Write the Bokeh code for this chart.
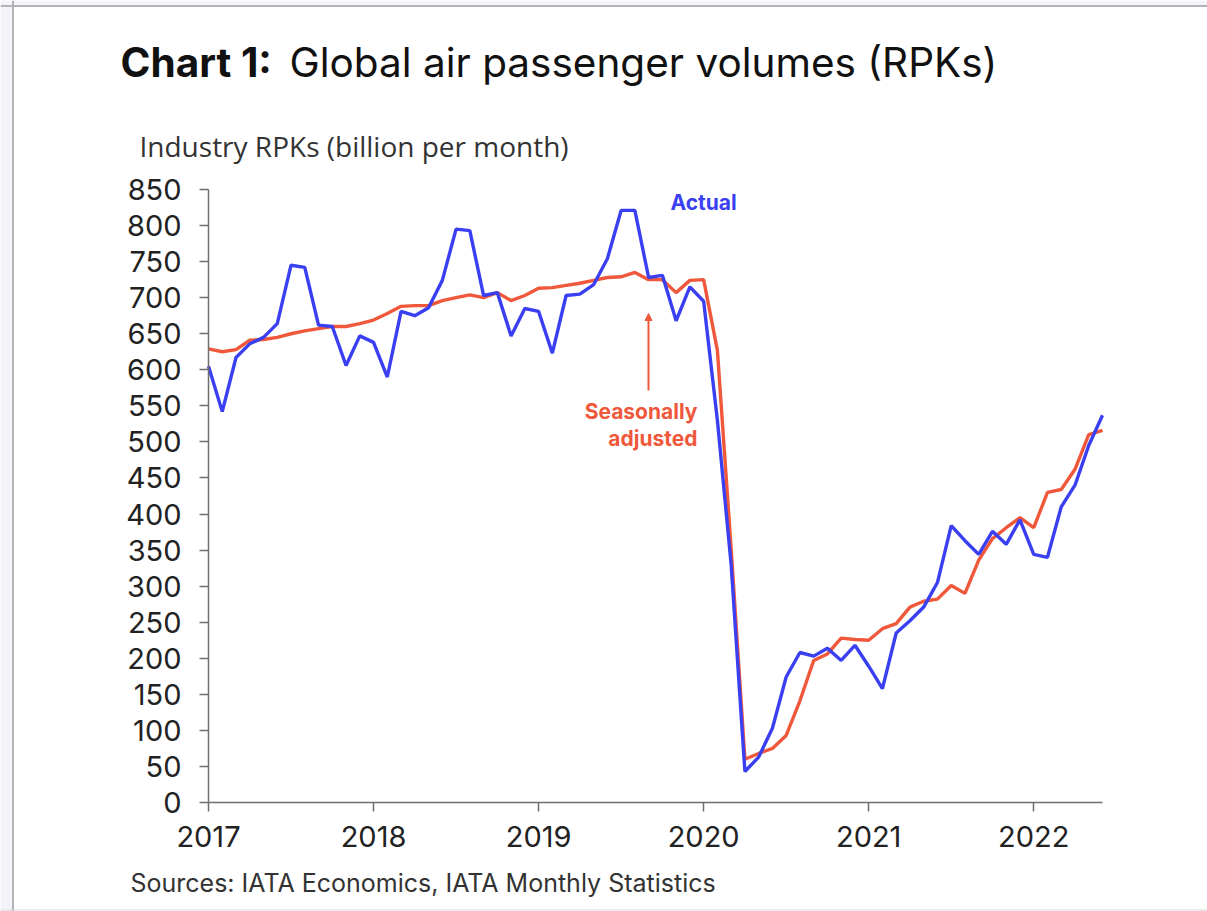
from bokeh.plotting import figure
from bokeh.models import (Range1d, FixedTicker, Label, Arrow, NormalHead,
                          ColumnDataSource, Span, BoxAnnotation)
from bokeh.embed import file_html
from bokeh.resources import INLINE

# ---- data (Jan 2017 .. Jun 2022, monthly, billion RPKs) ----
years = ["2017", "2018", "2019", "2020", "2021", "2022"]
actual = [605, 542, 617, 636, 645, 664, 745, 742, 662, 660, 606, 647,
          638, 590, 681, 675, 686, 724, 795, 793, 703, 707, 647, 685,
          681, 623, 703, 705, 718, 754, 821, 821, 728, 731, 668, 715,
          695, 530, 330, 43, 63, 103, 174, 208, 203, 214, 197, 218,
          189, 158, 235, 252, 271, 305, 384, 363, 344, 376, 358, 392,
          344, 340, 410, 440, 495, 537]
seas_adj = [629, 625, 628, 641, 642, 645, 650, 654, 657, 660, 660, 664,
            669, 678, 688, 689, 689, 696, 700, 704, 700, 707, 696, 703,
            713, 714, 717, 720, 724, 728, 729, 735, 725, 725, 707, 724,
            725, 627, 352, 60, 68, 75, 93, 141, 197, 206, 228, 226,
            225, 241, 248, 271, 279, 282, 301, 290, 336, 366, 381, 395,
            381, 430, 434, 462, 510, 516]
month_idx = list(range(len(actual)))
y_ticks = list(range(0, 851, 50))

BLUE = "#3a40f2"
RED = "#f0583c"
TXT = "#222222"
AX = "#6e6e6e"

W, H = 1207, 911
# pixel geometry of the plotting area inside the canvas
FX0, FX1, FY_TOP, FY_BOT = 208, 1102, 189, 802
N = len(actual) - 1
sx = N / (FX1 - FX0)          # months per pixel
sy = 850 / (FY_BOT - FY_TOP)  # units per pixel
px = lambda x: (x - FX0) * sx
py = lambda y: (FY_BOT - y) * sy

src = ColumnDataSource(dict(m=month_idx, actual=actual, sa=seas_adj))

p = figure(width=W, height=H, output_backend="svg", toolbar_location=None,
           x_range=Range1d(px(0), px(W)), y_range=Range1d(py(H), py(0)),
           min_border=0, min_border_left=0, min_border_right=0,
           min_border_top=0, min_border_bottom=0)
p.background_fill_color = "white"
p.border_fill_color = "white"
p.outline_line_color = None
p.grid.visible = False

# page frame decoration
p.add_layout(BoxAnnotation(right=px(12.5), fill_color="#f3f3f9", fill_alpha=1, line_color=None, level="underlay"))
p.add_layout(BoxAnnotation(bottom=py(5.5), fill_color="#f3f3f9", fill_alpha=1, line_color=None, level="underlay"))
p.add_layout(Span(location=px(12.5), dimension="height", line_color="#b4b4b8", line_width=2))
p.add_layout(Span(location=py(5.5), dimension="width", line_color="#b4b4b8", line_width=2))
p.add_layout(Span(location=py(909.5), dimension="width", line_color="#d8d8dc", line_width=1))

p.line("m", "sa", source=src, line_color=RED, line_width=3.4)
p.line("m", "actual", source=src, line_color=BLUE, line_width=3.4)

# axes
xa = p.xaxis[0]
xa.ticker = FixedTicker(ticks=[12 * i for i in range(len(years))])
xa.major_label_overrides = {12 * i: y for i, y in enumerate(years)}
xa.fixed_location = 0
xa.bounds = (0, N)
ya = p.yaxis[0]
ya.ticker = FixedTicker(ticks=y_ticks)
ya.fixed_location = 0
ya.bounds = (0, 850)
for ax in (xa, ya):
    ax.axis_line_color = AX
    ax.axis_line_width = 1.5
    ax.major_tick_line_color = AX
    ax.major_tick_line_width = 1.5
    ax.major_tick_in = 0
    ax.major_tick_out = 9
    ax.minor_tick_line_color = None
    ax.major_label_text_font = "Inter"
    ax.major_label_text_font_size = "29px"
    ax.major_label_text_color = TXT
xa.major_label_standoff = 14
ya.major_label_standoff = 18

# texts
p.add_layout(Label(x=px(120), y=py(62), text="Chart 1:", text_font="Inter",
                   text_font_style="bold", text_font_size="40.5px",
                   text_color="#111111", text_baseline="alphabetic"))
p.add_layout(Label(x=px(289), y=py(62), text="Global air passenger volumes (RPKs)",
                   text_font="Inter", text_font_size="40.5px",
                   text_color="#111111", text_baseline="alphabetic"))
p.add_layout(Label(x=px(139), y=py(145), text="Industry RPKs (billion per month)",
                   text_font="Open Sans", text_font_size="28px",
                   text_color="#333333", text_baseline="alphabetic"))
p.add_layout(Label(x=px(130), y=py(882), text="Sources: IATA Economics, IATA Monthly Statistics",
                   text_font="Inter", text_font_size="25px",
                   text_color="#333333", text_baseline="alphabetic"))
p.add_layout(Label(x=px(670), y=py(202), text="Actual", text_font="Inter",
                   text_font_style="bold", text_font_size="21px",
                   text_color=BLUE, text_baseline="middle"))
p.add_layout(Label(x=px(697), y=py(411), text="Seasonally", text_font="Inter",
                   text_font_style="bold", text_font_size="21px",
                   text_color=RED, text_align="right", text_baseline="alphabetic"))
p.add_layout(Label(x=px(697), y=py(438), text="adjusted", text_font="Inter",
                   text_font_style="bold", text_font_size="21px",
                   text_color=RED, text_align="right", text_baseline="alphabetic"))
p.add_layout(Arrow(end=NormalHead(size=7, fill_color=RED, line_color=RED),
                   x_start=px(648), y_start=py(390), x_end=px(648), y_end=py(313),
                   line_color=RED, line_width=2))

open("out.html", "w").write(file_html(p, INLINE))
